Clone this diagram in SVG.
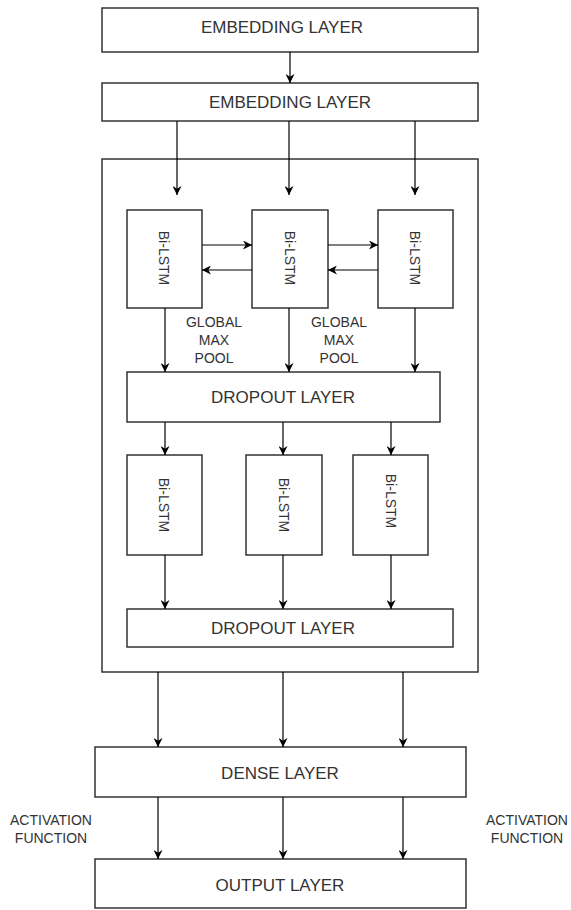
<svg xmlns="http://www.w3.org/2000/svg" width="571" height="910" viewBox="0 0 571 910">
<style>
.box{fill:#fff;stroke:#333;stroke-width:1.5}
.t{font-family:"Liberation Sans",Arial,sans-serif;font-size:17px;fill:#333;text-anchor:middle}
.s{font-family:"Liberation Sans",Arial,sans-serif;font-size:14px;fill:#333;text-anchor:middle}
.c{stroke:#000;stroke-width:1.2;fill:none;marker-end:url(#ah)}
</style>
<defs>
<marker id="ah" viewBox="0 0 10 10" refX="10" refY="5" markerWidth="9" markerHeight="9" markerUnits="userSpaceOnUse" orient="auto">
<path d="M0,0 L10,5 L0,10 L3,5 z" fill="#000"/>
</marker>
</defs>
<rect width="571" height="910" fill="#fff"/>
<g id="container"><rect class="box" x="102" y="159" width="376" height="513"/></g>
<g id="embed1"><rect class="box" x="102" y="8" width="376" height="44"/><text class="t" x="282" y="33">EMBEDDING LAYER</text></g>
<g id="embed2"><rect class="box" x="102" y="83" width="376" height="38"/><text class="t" x="290" y="108">EMBEDDING LAYER</text></g>
<g id="lstm1"><rect class="box" x="127" y="210" width="75" height="98"/><text class="s" transform="translate(164,258) rotate(90)" dominant-baseline="central">Bi-LSTM</text></g>
<g id="lstm2"><rect class="box" x="252" y="210" width="76" height="98"/><text class="s" transform="translate(290,258) rotate(90)" dominant-baseline="central">Bi-LSTM</text></g>
<g id="lstm3"><rect class="box" x="378" y="210" width="75" height="98"/><text class="s" transform="translate(415,258) rotate(90)" dominant-baseline="central">Bi-LSTM</text></g>
<g id="pool1"><text class="s" x="214" y="327">GLOBAL</text><text class="s" x="214" y="345">MAX</text><text class="s" x="214" y="363">POOL</text></g>
<g id="pool2"><text class="s" x="339" y="327">GLOBAL</text><text class="s" x="339" y="345">MAX</text><text class="s" x="339" y="363">POOL</text></g>
<g id="dropout1"><rect class="box" x="127" y="372" width="313" height="50"/><text class="t" x="283" y="403">DROPOUT LAYER</text></g>
<g id="lstm4"><rect class="box" x="127" y="455" width="75" height="100"/><text class="s" transform="translate(164,505) rotate(90)" dominant-baseline="central">Bi-LSTM</text></g>
<g id="lstm5"><rect class="box" x="246" y="455" width="76" height="100"/><text class="s" transform="translate(284,505) rotate(90)" dominant-baseline="central">Bi-LSTM</text></g>
<g id="lstm6"><rect class="box" x="353" y="455" width="75" height="100"/><text class="s" transform="translate(391,501) rotate(90)" dominant-baseline="central">Bi-LSTM</text></g>
<g id="dropout2"><rect class="box" x="127" y="609" width="326" height="38"/><text class="t" x="283" y="634">DROPOUT LAYER</text></g>
<g id="dense"><rect class="box" x="95" y="747" width="371" height="50"/><text class="t" x="280" y="779">DENSE LAYER</text></g>
<g id="output"><rect class="box" x="95" y="859" width="371" height="49"/><text class="t" x="280" y="891">OUTPUT LAYER</text></g>
<g id="act1"><text class="s" x="51" y="825">ACTIVATION</text><text class="s" x="51" y="843">FUNCTION</text></g>
<g id="act2"><text class="s" x="527" y="825">ACTIVATION</text><text class="s" x="527" y="843">FUNCTION</text></g>
<g id="connectors">
<path class="c" d="M290,52 V83"/>
<path class="c" d="M177,121 V195"/>
<path class="c" d="M289,121 V195"/>
<path class="c" d="M415,121 V195"/>
<path class="c" d="M202,245 H252"/>
<path class="c" d="M252,270 H202"/>
<path class="c" d="M328,245 H378"/>
<path class="c" d="M378,270 H328"/>
<path class="c" d="M165,308 V372"/>
<path class="c" d="M289,308 V372"/>
<path class="c" d="M415,308 V372"/>
<path class="c" d="M165,422 V455"/>
<path class="c" d="M283,422 V455"/>
<path class="c" d="M391,422 V455"/>
<path class="c" d="M165,555 V609"/>
<path class="c" d="M283,555 V609"/>
<path class="c" d="M391,555 V609"/>
<path class="c" d="M158,672 V747"/>
<path class="c" d="M283,672 V747"/>
<path class="c" d="M403,672 V747"/>
<path class="c" d="M158,797 V859"/>
<path class="c" d="M283,797 V859"/>
<path class="c" d="M403,797 V859"/>
</g>
</svg>
